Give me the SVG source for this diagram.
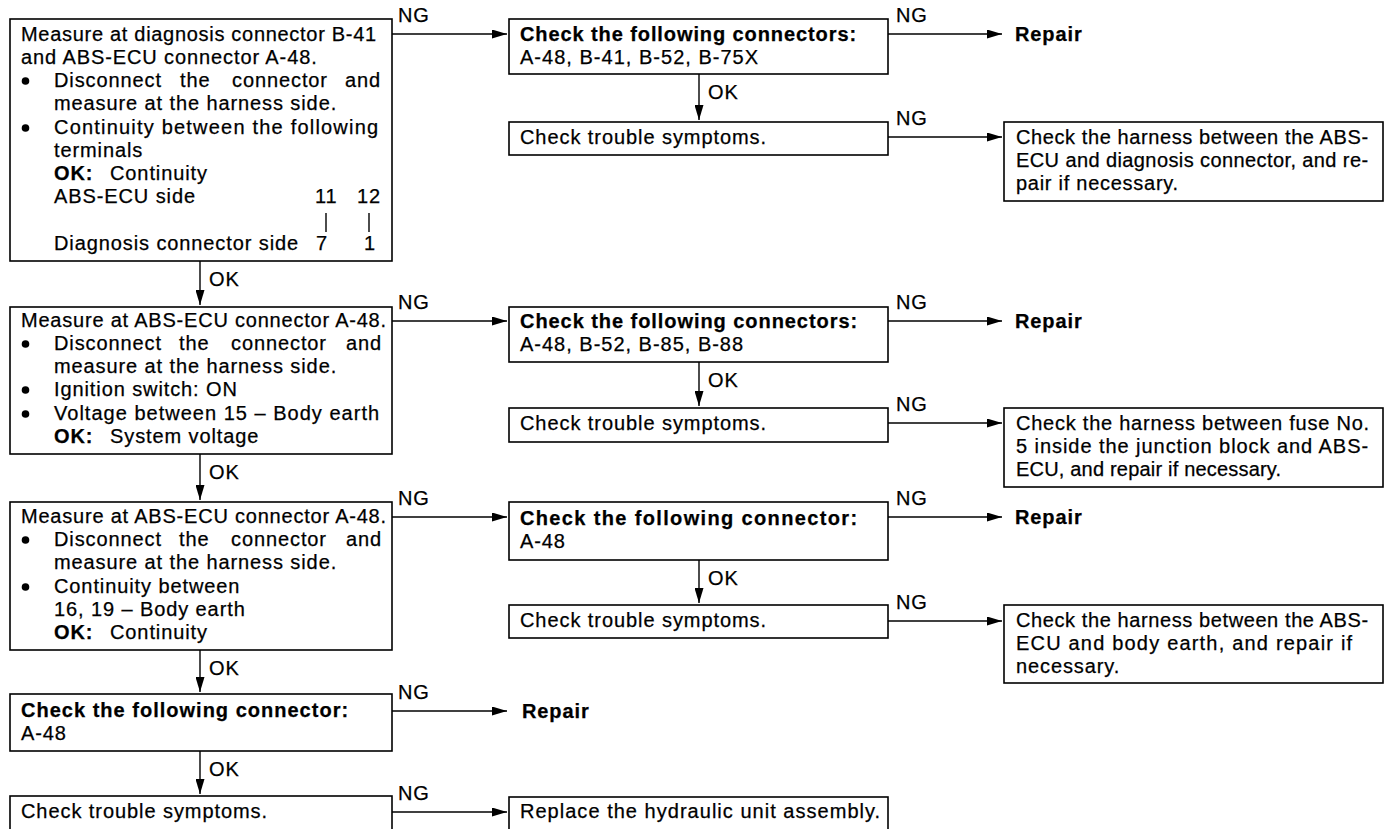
<svg xmlns="http://www.w3.org/2000/svg" width="1388" height="829" viewBox="0 0 1388 829">
<defs>
<style>
.t{font-family:"Liberation Sans",Arial,Helvetica,sans-serif;font-size:20px;letter-spacing:0.9px;fill:#000;stroke:#000;stroke-width:0.25px}
.b{font-weight:bold}
.box{fill:#fff;stroke:#000;stroke-width:1.6}
.ln{fill:none;stroke:#000;stroke-width:1.4}
.bul{fill:#000}
</style>
<marker id="ah" markerWidth="16" markerHeight="9" refX="15" refY="4.5" orient="auto" markerUnits="userSpaceOnUse">
<path d="M0,0 L15,4.5 L0,9 z" fill="#000"/>
</marker>
</defs>
<rect width="1388" height="829" fill="#fff"/>

<g id="connectors">
<line class="ln" x1="200" y1="261" x2="200" y2="305" marker-end="url(#ah)"/>
<line class="ln" x1="200" y1="454" x2="200" y2="500" marker-end="url(#ah)"/>
<line class="ln" x1="200" y1="650" x2="200" y2="692" marker-end="url(#ah)"/>
<line class="ln" x1="200" y1="751" x2="200" y2="794" marker-end="url(#ah)"/>
<line class="ln" x1="699" y1="74" x2="699" y2="120" marker-end="url(#ah)"/>
<line class="ln" x1="699" y1="362" x2="699" y2="406" marker-end="url(#ah)"/>
<line class="ln" x1="699" y1="560" x2="699" y2="603" marker-end="url(#ah)"/>
<line class="ln" x1="392" y1="34" x2="507" y2="34" marker-end="url(#ah)"/>
<line class="ln" x1="392" y1="321" x2="507" y2="321" marker-end="url(#ah)"/>
<line class="ln" x1="392" y1="517" x2="507" y2="517" marker-end="url(#ah)"/>
<line class="ln" x1="392" y1="711" x2="507" y2="711" marker-end="url(#ah)"/>
<line class="ln" x1="392" y1="812" x2="507" y2="812" marker-end="url(#ah)"/>
<line class="ln" x1="888" y1="34" x2="1002" y2="34" marker-end="url(#ah)"/>
<line class="ln" x1="888" y1="137" x2="1002" y2="137" marker-end="url(#ah)"/>
<line class="ln" x1="888" y1="321" x2="1002" y2="321" marker-end="url(#ah)"/>
<line class="ln" x1="888" y1="423" x2="1002" y2="423" marker-end="url(#ah)"/>
<line class="ln" x1="888" y1="517" x2="1002" y2="517" marker-end="url(#ah)"/>
<line class="ln" x1="888" y1="621" x2="1002" y2="621" marker-end="url(#ah)"/>
<text class="t" x="209" y="286">OK</text>
<text class="t" x="209" y="479">OK</text>
<text class="t" x="209" y="675">OK</text>
<text class="t" x="209" y="776">OK</text>
<text class="t" x="708" y="99">OK</text>
<text class="t" x="708" y="387">OK</text>
<text class="t" x="708" y="585">OK</text>
<text class="t" x="398" y="22">NG</text>
<text class="t" x="398" y="309">NG</text>
<text class="t" x="398" y="505">NG</text>
<text class="t" x="398" y="699">NG</text>
<text class="t" x="398" y="800">NG</text>
<text class="t" x="896" y="22">NG</text>
<text class="t" x="896" y="125">NG</text>
<text class="t" x="896" y="309">NG</text>
<text class="t" x="896" y="411">NG</text>
<text class="t" x="896" y="505">NG</text>
<text class="t" x="896" y="609">NG</text>
</g>

<g id="n1">
<rect class="box" x="10" y="19" width="382" height="242"/>
<text class="t" x="21" y="41" textLength="356" lengthAdjust="spacing">Measure at diagnosis connector B-41</text>
<text class="t" x="21" y="64">and ABS-ECU connector A-48.</text>
<circle class="bul" cx="25.5" cy="81" r="3.8"/>
<text class="t" y="87"><tspan x="54">Disconnect</tspan><tspan x="180">the</tspan><tspan x="232">connector</tspan><tspan x="345">and</tspan></text>
<text class="t" x="54" y="110">measure at the harness side.</text>
<circle class="bul" cx="25.5" cy="128" r="3.8"/>
<text class="t" x="54" y="134" textLength="325" lengthAdjust="spacing">Continuity between the following</text>
<text class="t" x="54" y="157">terminals</text>
<text class="t" y="180"><tspan class="b" x="54">OK:</tspan><tspan x="110">Continuity</tspan></text>
<text class="t" y="203"><tspan x="54">ABS-ECU side</tspan><tspan x="315">11</tspan><tspan x="357">12</tspan></text>
<line class="ln" x1="326" y1="213" x2="326" y2="232"/>
<line class="ln" x1="369" y1="213" x2="369" y2="232"/>
<text class="t" y="250"><tspan x="54">Diagnosis connector side</tspan><tspan x="316">7</tspan><tspan x="364">1</tspan></text>
</g>

<g id="n2">
<rect class="box" x="509" y="19" width="379" height="55"/>
<text class="t b" x="520" y="41" textLength="337" lengthAdjust="spacing">Check the following connectors:</text>
<text class="t" x="520" y="64" textLength="239" lengthAdjust="spacing">A-48, B-41, B-52, B-75X</text>
</g>
<g id="n2r"><text class="t b" x="1015" y="41">Repair</text></g>

<g id="n3">
<rect class="box" x="509" y="122" width="379" height="33"/>
<text class="t" x="520" y="144" textLength="247" lengthAdjust="spacing">Check trouble symptoms.</text>
</g>

<g id="n4">
<rect class="box" x="1004" y="122" width="379" height="79"/>
<text class="t" x="1016" y="144" textLength="353" lengthAdjust="spacing">Check the harness between the ABS-</text>
<text class="t" x="1016" y="167" textLength="353" lengthAdjust="spacing">ECU and diagnosis connector, and re-</text>
<text class="t" x="1016" y="190" textLength="163" lengthAdjust="spacing">pair if necessary.</text>
</g>

<g id="n5">
<rect class="box" x="10" y="307" width="382" height="147"/>
<text class="t" x="21" y="327" textLength="366" lengthAdjust="spacing">Measure at ABS-ECU connector A-48.</text>
<circle class="bul" cx="25.5" cy="344" r="3.8"/>
<text class="t" y="350"><tspan x="54">Disconnect</tspan><tspan x="179">the</tspan><tspan x="231">connector</tspan><tspan x="346">and</tspan></text>
<text class="t" x="54" y="373">measure at the harness side.</text>
<circle class="bul" cx="25.5" cy="390" r="3.8"/>
<text class="t" x="54" y="396">Ignition switch: ON</text>
<circle class="bul" cx="25.5" cy="414" r="3.8"/>
<text class="t" x="54" y="420" textLength="326" lengthAdjust="spacing">Voltage between 15 – Body earth</text>
<text class="t" y="443"><tspan class="b" x="54">OK:</tspan><tspan x="110">System voltage</tspan></text>
</g>

<g id="n6">
<rect class="box" x="509" y="307" width="379" height="55"/>
<text class="t b" x="520" y="328" textLength="338" lengthAdjust="spacing">Check the following connectors:</text>
<text class="t" x="520" y="351" textLength="224" lengthAdjust="spacing">A-48, B-52, B-85, B-88</text>
</g>
<g id="n6r"><text class="t b" x="1015" y="328">Repair</text></g>

<g id="n7">
<rect class="box" x="509" y="408" width="379" height="34"/>
<text class="t" x="520" y="430" textLength="247" lengthAdjust="spacing">Check trouble symptoms.</text>
</g>

<g id="n8">
<rect class="box" x="1004" y="408" width="379" height="79"/>
<text class="t" x="1016" y="430" textLength="354" lengthAdjust="spacing">Check the harness between fuse No.</text>
<text class="t" x="1016" y="453" textLength="353" lengthAdjust="spacing">5 inside the junction block and ABS-</text>
<text class="t" x="1016" y="476" textLength="266" lengthAdjust="spacing">ECU, and repair if necessary.</text>
</g>

<g id="n9">
<rect class="box" x="10" y="502" width="382" height="148"/>
<text class="t" x="21" y="523" textLength="366" lengthAdjust="spacing">Measure at ABS-ECU connector A-48.</text>
<circle class="bul" cx="25.5" cy="540" r="3.8"/>
<text class="t" y="546"><tspan x="54">Disconnect</tspan><tspan x="179">the</tspan><tspan x="231">connector</tspan><tspan x="346">and</tspan></text>
<text class="t" x="54" y="569">measure at the harness side.</text>
<circle class="bul" cx="25.5" cy="587" r="3.8"/>
<text class="t" x="54" y="593">Continuity between</text>
<text class="t" x="54" y="616">16, 19 – Body earth</text>
<text class="t" y="639"><tspan class="b" x="54">OK:</tspan><tspan x="110">Continuity</tspan></text>
</g>

<g id="n10">
<rect class="box" x="509" y="502" width="379" height="58"/>
<text class="t b" x="520" y="525" textLength="338" lengthAdjust="spacing">Check the following connector:</text>
<text class="t" x="520" y="548">A-48</text>
</g>
<g id="n10r"><text class="t b" x="1015" y="524">Repair</text></g>

<g id="n11">
<rect class="box" x="509" y="605" width="379" height="33"/>
<text class="t" x="520" y="627" textLength="247" lengthAdjust="spacing">Check trouble symptoms.</text>
</g>

<g id="n12">
<rect class="box" x="1004" y="605" width="379" height="78"/>
<text class="t" x="1016" y="627" textLength="353" lengthAdjust="spacing">Check the harness between the ABS-</text>
<text class="t" x="1016" y="650" textLength="337" lengthAdjust="spacing">ECU and body earth, and repair if</text>
<text class="t" x="1016" y="673">necessary.</text>
</g>

<g id="n13">
<rect class="box" x="10" y="694" width="382" height="57"/>
<text class="t b" x="21" y="717" textLength="328" lengthAdjust="spacing">Check the following connector:</text>
<text class="t" x="21" y="740">A-48</text>
</g>
<g id="n13r"><text class="t b" x="522" y="718">Repair</text></g>

<g id="n14">
<rect class="box" x="10" y="796" width="382" height="45"/>
<text class="t" x="21" y="818" textLength="247" lengthAdjust="spacing">Check trouble symptoms.</text>
</g>

<g id="n15">
<rect class="box" x="509" y="797" width="379" height="45"/>
<text class="t" x="520" y="818" textLength="361" lengthAdjust="spacing">Replace the hydraulic unit assembly.</text>
</g>
</svg>
